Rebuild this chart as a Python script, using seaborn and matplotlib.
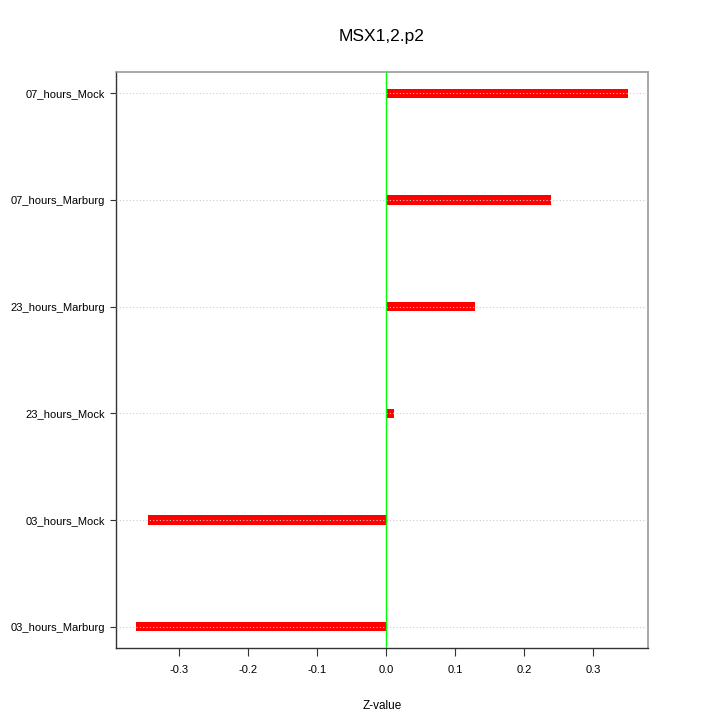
import matplotlib
matplotlib.use('Agg')

import seaborn as sns
import pandas as pd
import matplotlib.pyplot as plt

# values, top to bottom
samples = ["07_hours_Mock", "07_hours_Marburg", "23_hours_Marburg",
           "23_hours_Mock", "03_hours_Mock", "03_hours_Marburg"]
z_values = [0.350, 0.238, 0.128, 0.011, -0.345, -0.363]
x_ticks = [-0.3, -0.2, -0.1, 0.0, 0.1, 0.2, 0.3]
title = "MSX1,2.p2"

df = pd.DataFrame({"Sample": samples, "Z-value": z_values})

sns.set_style("white")
plt.rcParams['font.family'] = ['Liberation Sans', 'DejaVu Sans']
plt.rcParams['text.color'] = 'black'
plt.rcParams['xtick.labelcolor'] = 'black'
plt.rcParams['ytick.labelcolor'] = 'black'
plt.rcParams['axes.labelcolor'] = 'black'

fig = plt.figure(figsize=(7.2, 7.2), dpi=100)
ax = fig.add_axes([0.161, 0.1, 0.739, 0.8])

sns.barplot(data=df, x="Z-value", y="Sample", order=samples, orient="h",
            color="#ff0000", saturation=1, width=0.085, linewidth=0, ax=ax)

ax.axvline(0, color="#00ff00", linewidth=1, zorder=3)

# dotted reference lines drawn over the bars, like dotchart
ax.set_axisbelow(False)
ax.yaxis.grid(True, linestyle=(0, (1, 2)), color="#cccccc", linewidth=0.8)
ax.xaxis.grid(False)

ax.set_xlim(-0.392, 0.379)
ax.set_ylim(len(samples) - 1 + 0.2, -0.2)
ax.set_xticks(x_ticks)
ax.set_xticklabels([f"{t:.1f}" for t in x_ticks])

for side in ["left", "bottom"]:
    ax.spines[side].set_color("#333333")
    ax.spines[side].set_linewidth(1.0)
for side in ["top", "right"]:
    ax.spines[side].set_color("#999999")
    ax.spines[side].set_linewidth(1.2)

ax.tick_params(axis="x", direction="out", length=6, width=0.8, color="#333333",
               labelsize=8, pad=6, bottom=True)
ax.tick_params(axis="y", direction="out", length=4.5, width=0.8, color="#333333",
               labelsize=8, pad=3.5, left=True)

ax.set_ylabel("")
ax.set_xlabel("Z-value", fontsize=8.5, labelpad=18)
ax.set_title(title, fontsize=12.5, pad=22)

fig.savefig("out.png", dpi=100)
plt.close(fig)
